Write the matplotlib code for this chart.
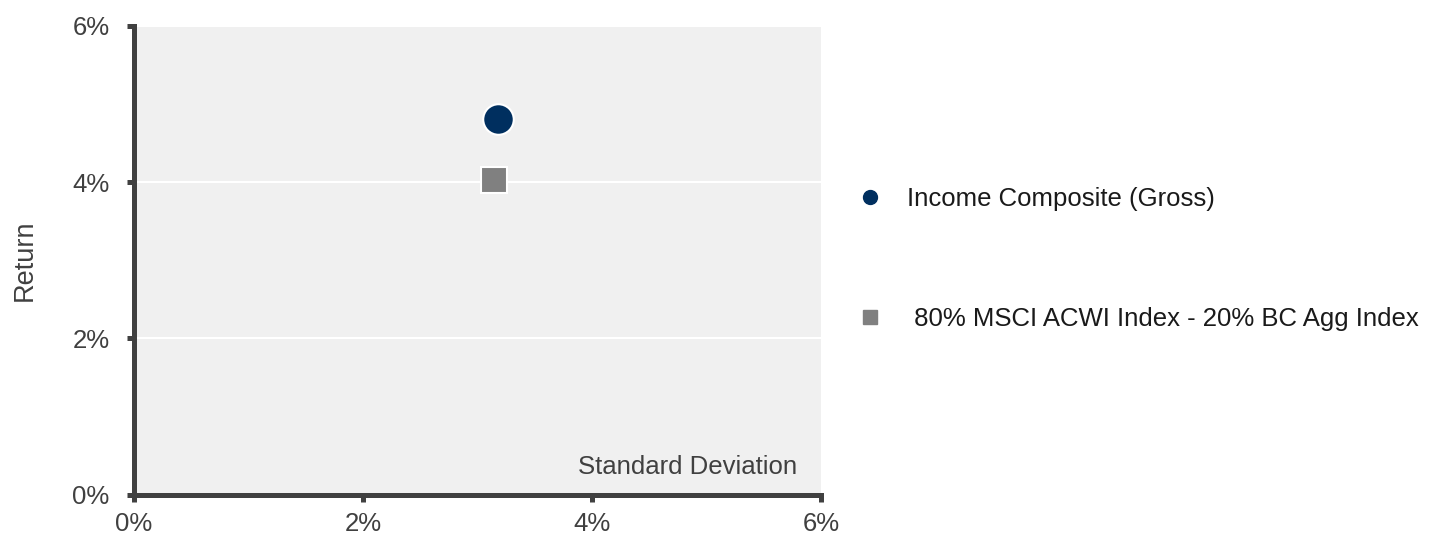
import matplotlib.pyplot as plt
from matplotlib.lines import Line2D
from matplotlib.ticker import FuncFormatter

plt.rcParams['font.family'] = ['Liberation Sans', 'DejaVu Sans']

# data (percent)
names = ['Income Composite (Gross)', ' 80% MSCI ACWI Index - 20% BC Agg Index']
std_dev = [3.18, 3.14]
returns = [4.80, 4.03]
markers = ['o', 's']
colors = ['#002f5f', '#808080']
ticks = [0, 2, 4, 6]

fig = plt.figure(figsize=(14.45, 5.35), dpi=100)
ax = fig.add_axes([0.0927, 0.0748, 0.4755, 0.8775])
ax.set_facecolor('#f0f0f0')

sizes = [22, 19]
for i in range(len(names)):
    ax.plot(std_dev[i], returns[i], marker=markers[i], color=colors[i],
            markersize=sizes[i], markeredgecolor='white', markeredgewidth=1.5,
            linestyle='none', zorder=3)

ax.set_xlim(0, 6)
ax.set_ylim(0, 6)
ax.set_xticks(ticks)
ax.set_yticks(ticks)
fmt = FuncFormatter(lambda v, p: f'{v:.0f}%')
ax.xaxis.set_major_formatter(fmt)
ax.yaxis.set_major_formatter(fmt)
ax.grid(axis='y', color='white', linewidth=1.5, zorder=1)
ax.set_axisbelow(True)

for s in ['top', 'right']:
    ax.spines[s].set_visible(False)
for s in ['left', 'bottom']:
    ax.spines[s].set_color('#404040')
    ax.spines[s].set_linewidth(3.6)
ax.tick_params(axis='both', direction='out', length=5, width=3.6,
               color='#404040', labelsize=18.5, labelcolor='#404040')
ax.tick_params(axis='x', pad=7)
ax.tick_params(axis='y', pad=12.5)

ax.set_ylabel('Return', fontsize=19.5, color='#404040', labelpad=25)
ax.text(0.965, 0.035, 'Standard Deviation', transform=ax.transAxes,
        ha='right', va='bottom', fontsize=18.5, color='#404040')

handles = [Line2D([], [], marker=markers[i], color=colors[i], markersize=10 if i == 0 else 9.5,
                  linestyle='none') for i in range(len(names))]
fig.legend(handles, names, loc='center left', bbox_to_anchor=(0.577, 0.516),
           frameon=False, fontsize=18.5, handlelength=1.0, handletextpad=0.95,
           labelspacing=3.72, labelcolor='#1a1a1a')

fig.savefig('out.png', dpi=100)
